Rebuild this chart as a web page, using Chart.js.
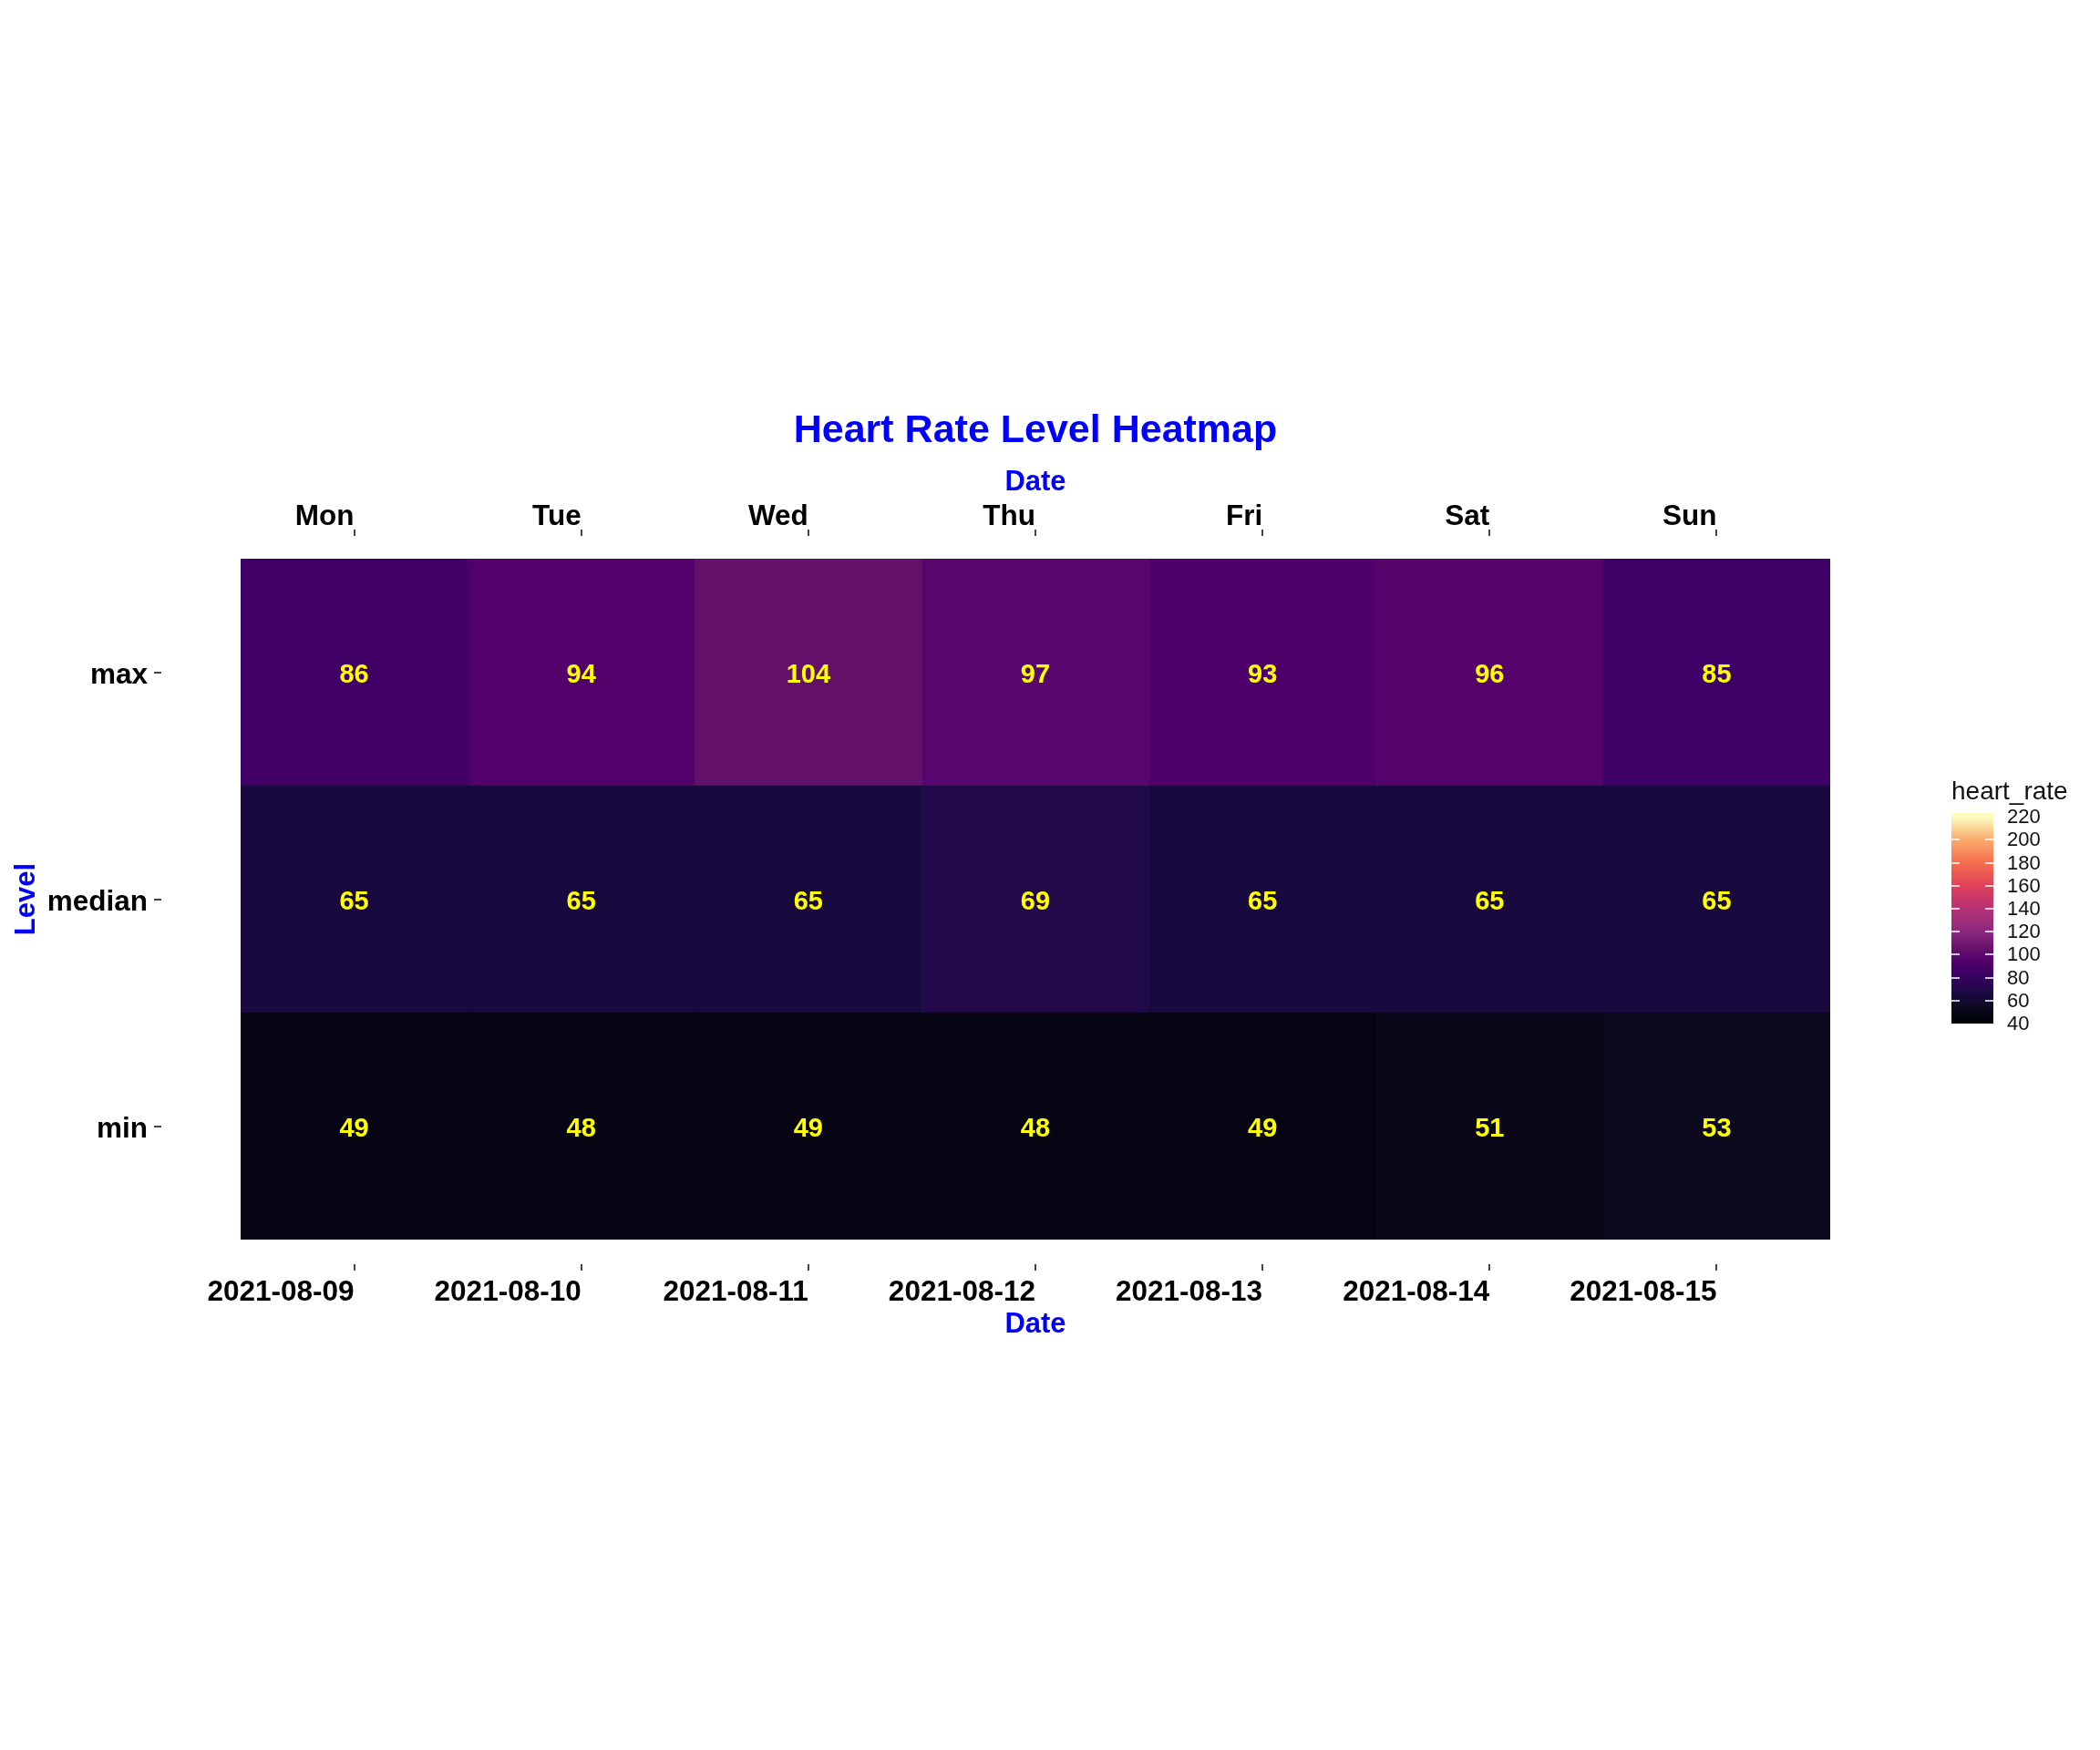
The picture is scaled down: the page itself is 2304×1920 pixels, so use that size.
<!DOCTYPE html>
<html>
<head>
<meta charset="utf-8">
<script src="https://cdn.jsdelivr.net/npm/chart.js@4.4.0/dist/chart.umd.min.js"></script>
<style>
html,body{margin:0;padding:0;background:#fff;}
#wrap{width:2304px;height:1920px;position:relative;}
</style>
</head>
<body>
<div id="wrap"><canvas id="c" width="2304" height="1920"></canvas></div>
<script>
// ---- data ----
const dates = ['2021-08-09','2021-08-10','2021-08-11','2021-08-12','2021-08-13','2021-08-14','2021-08-15'];
const weekdays = ['Mon','Tue','Wed','Thu','Fri','Sat','Sun'];
const levels = ['min','median','max'];            // bottom to top
const minRate = [49,48,49,48,49,51,53];
const medianRate = [65,65,65,69,65,65,65];
const maxRate = [86,94,104,97,93,96,85];
const colorbarTicks = [40,60,80,100,120,140,160,180,200,220];

const chartTitle = 'Heart Rate Level Heatmap';
const xTitle = 'Date';
const yTitle = 'Level';
const legendTitle = 'heart_rate';

// ---- colour scale (magma-like) ----
const colorMin = 40, colorMax = 220;
const colorStops = [
  [0.000,[0,0,4]],[0.044,[5,4,18]],[0.050,[7,5,20]],[0.072,[12,9,30]],
  [0.139,[24,10,62]],[0.161,[34,9,74]],[0.250,[62,0,102]],[0.300,[82,0,106]],
  [0.317,[86,6,108]],[0.356,[99,16,107]],[0.444,[140,40,125]],[0.556,[181,50,118]],
  [0.667,[224,64,90]],[0.778,[245,110,78]],[0.889,[251,170,108]],[1.000,[252,253,191]]
];
function rateColor(v){
  let t = (v - colorMin) / (colorMax - colorMin);
  t = Math.max(0, Math.min(1, t));
  for (let i = 1; i < colorStops.length; i++){
    const [t1,c1] = colorStops[i];
    const [t0,c0] = colorStops[i-1];
    if (t <= t1){
      const f = (t - t0) / (t1 - t0);
      const c = c0.map((a,k)=>Math.round(a + (c1[k]-a)*f));
      return `rgb(${c[0]},${c[1]},${c[2]})`;
    }
  }
  const c = colorStops[colorStops.length-1][1];
  return `rgb(${c[0]},${c[1]},${c[2]})`;
}

const FONT = '"Liberation Sans", Arial, Helvetica, sans-serif';
const rowsByLevel = [minRate, medianRate, maxRate];

const datasets = levels.map((lvl, i) => ({
  label: lvl,
  data: rowsByLevel[i].map(() => [i, i + 1]),
  rates: rowsByLevel[i],
  backgroundColor: rowsByLevel[i].map(rateColor),
  borderWidth: 0,
  barPercentage: 1.0,
  categoryPercentage: 1.0,
  grouped: false
}));

// ---- plugins ----
const cellLabels = {
  id: 'cellLabels',
  afterDatasetsDraw(chart){
    const ctx = chart.ctx;
    ctx.save();
    ctx.font = `bold 29px ${FONT}`;
    ctx.fillStyle = '#FFFF00';
    ctx.textAlign = 'center';
    ctx.textBaseline = 'middle';
    chart.data.datasets.forEach((ds, di) => {
      const meta = chart.getDatasetMeta(di);
      meta.data.forEach((el, j) => {
        ctx.fillText(String(ds.rates[j]), el.x, (el.y + el.base) / 2 + 3);
      });
    });
    ctx.restore();
  }
};

const tickMarks = {
  id: 'tickMarks',
  afterDraw(chart){
    const ctx = chart.ctx;
    const area = chart.chartArea;
    ctx.save();
    ctx.strokeStyle = '#444';
    ctx.lineWidth = 2;
    const xs = chart.scales.x, xt = chart.scales.x2, ys = chart.scales.y;
    xs.ticks.forEach((t,i) => {
      const px = Math.round(xs.getPixelForTick(i)) ;
      ctx.beginPath(); ctx.moveTo(px, area.bottom + 27); ctx.lineTo(px, area.bottom + 34); ctx.stroke();
    });
    xt.ticks.forEach((t,i) => {
      const px = Math.round(xt.getPixelForTick(i));
      ctx.beginPath(); ctx.moveTo(px, area.top - 32); ctx.lineTo(px, area.top - 25); ctx.stroke();
    });
    ys.ticks.forEach((t,i) => {
      const py = Math.round(ys.getPixelForTick(i));
      ctx.beginPath(); ctx.moveTo(area.left - 95, py); ctx.lineTo(area.left - 87, py); ctx.stroke();
    });
    ctx.restore();
  }
};

const colorbar = {
  id: 'colorbar',
  afterDraw(chart){
    const ctx = chart.ctx;
    const barX = 2141, barW = 46, barBottom = 1123, pxPerUnit = 1.26;
    const barTopVal = 223;
    const cbPx = v => barBottom - (v - colorMin) * pxPerUnit;
    const top = cbPx(barTopVal);
    ctx.save();
    for (let y = Math.floor(top); y < barBottom; y++){
      const v = colorMin + (barBottom - (y + 0.5)) / pxPerUnit;
      ctx.fillStyle = rateColor(v);
      ctx.fillRect(barX, y, barW, 1);
    }
    ctx.strokeStyle = 'rgba(255,255,255,0.75)';
    ctx.lineWidth = 2;
    colorbarTicks.forEach(v => {
      if (v <= colorMin || v >= colorMax) return;
      const y = Math.round(cbPx(v));
      ctx.beginPath(); ctx.moveTo(barX, y); ctx.lineTo(barX + 9, y); ctx.stroke();
      ctx.beginPath(); ctx.moveTo(barX + barW - 9, y); ctx.lineTo(barX + barW, y); ctx.stroke();
    });
    ctx.fillStyle = '#111';
    ctx.font = `22px ${FONT}`;
    ctx.textAlign = 'left';
    ctx.textBaseline = 'middle';
    colorbarTicks.forEach(v => ctx.fillText(String(v), 2202, cbPx(v) + 1));
    ctx.font = `28px ${FONT}`;
    ctx.fillText(legendTitle, 2141, 869);
    ctx.restore();
  }
};

const tickFont = {family: FONT, size: 31.5, weight: 'bold'};
const axisTitleFont = {family: FONT, size: 31, weight: 'bold'};

new Chart(document.getElementById('c'), {
  type: 'bar',
  data: { labels: dates, datasets },
  plugins: [cellLabels, tickMarks, colorbar],
  options: {
    responsive: false,
    devicePixelRatio: 1,
    animation: false,
    layout: { padding: { top: 447, left: 0, right: 296, bottom: 400 } },
    plugins: {
      legend: { display: false },
      tooltip: { enabled: false },
      title: {
        display: true,
        text: chartTitle,
        fullSize: false,
        color: '#0000FF',
        font: { family: FONT, size: 43, weight: 'bold' },
        padding: { top: 0, bottom: 0 }
      }
    },
    scales: {
      x: {
        type: 'category',
        position: 'bottom',
        offset: true,
        grid: { display: false },
        border: { display: false },
        ticks: { color: '#000', font: tickFont, align: 'end', padding: 31, maxRotation: 0, minRotation: 0, autoSkip: false },
        title: { display: true, text: xTitle, color: '#0000FF', font: axisTitleFont, padding: { top: 0, bottom: 48 } },
        afterFit(s){ s.height = 160; s.paddingLeft = 0; s.paddingRight = 0; }
      },
      x2: {
        type: 'category',
        position: 'top',
        labels: weekdays,
        offset: true,
        grid: { display: false },
        border: { display: false },
        ticks: { color: '#000', font: tickFont, align: 'end', padding: 19, maxRotation: 0, minRotation: 0, autoSkip: false },
        title: { display: true, text: xTitle, color: '#0000FF', font: axisTitleFont, padding: { top: 12, bottom: 0 } },
        afterFit(s){ s.height = 114.4; s.paddingLeft = 0; s.paddingRight = 0; }
      },
      y: {
        type: 'linear',
        position: 'left',
        min: 0,
        max: levels.length,
        grid: { display: false },
        border: { display: false },
        afterBuildTicks(s){ s.ticks = levels.map((l, i) => ({ value: i + 0.5 })); },
        ticks: {
          color: '#000', font: tickFont, padding: 94, labelOffset: 4,
          callback: (v) => levels[Math.floor(v)]
        },
        title: { display: true, text: yTitle, color: '#0000FF', font: axisTitleFont, padding: { top: 11, bottom: 0 } },
        afterFit(s){ s.width = 264; s.paddingTop = 0; s.paddingBottom = 0; }
      }
    }
  }
});
</script>
</body>
</html>
